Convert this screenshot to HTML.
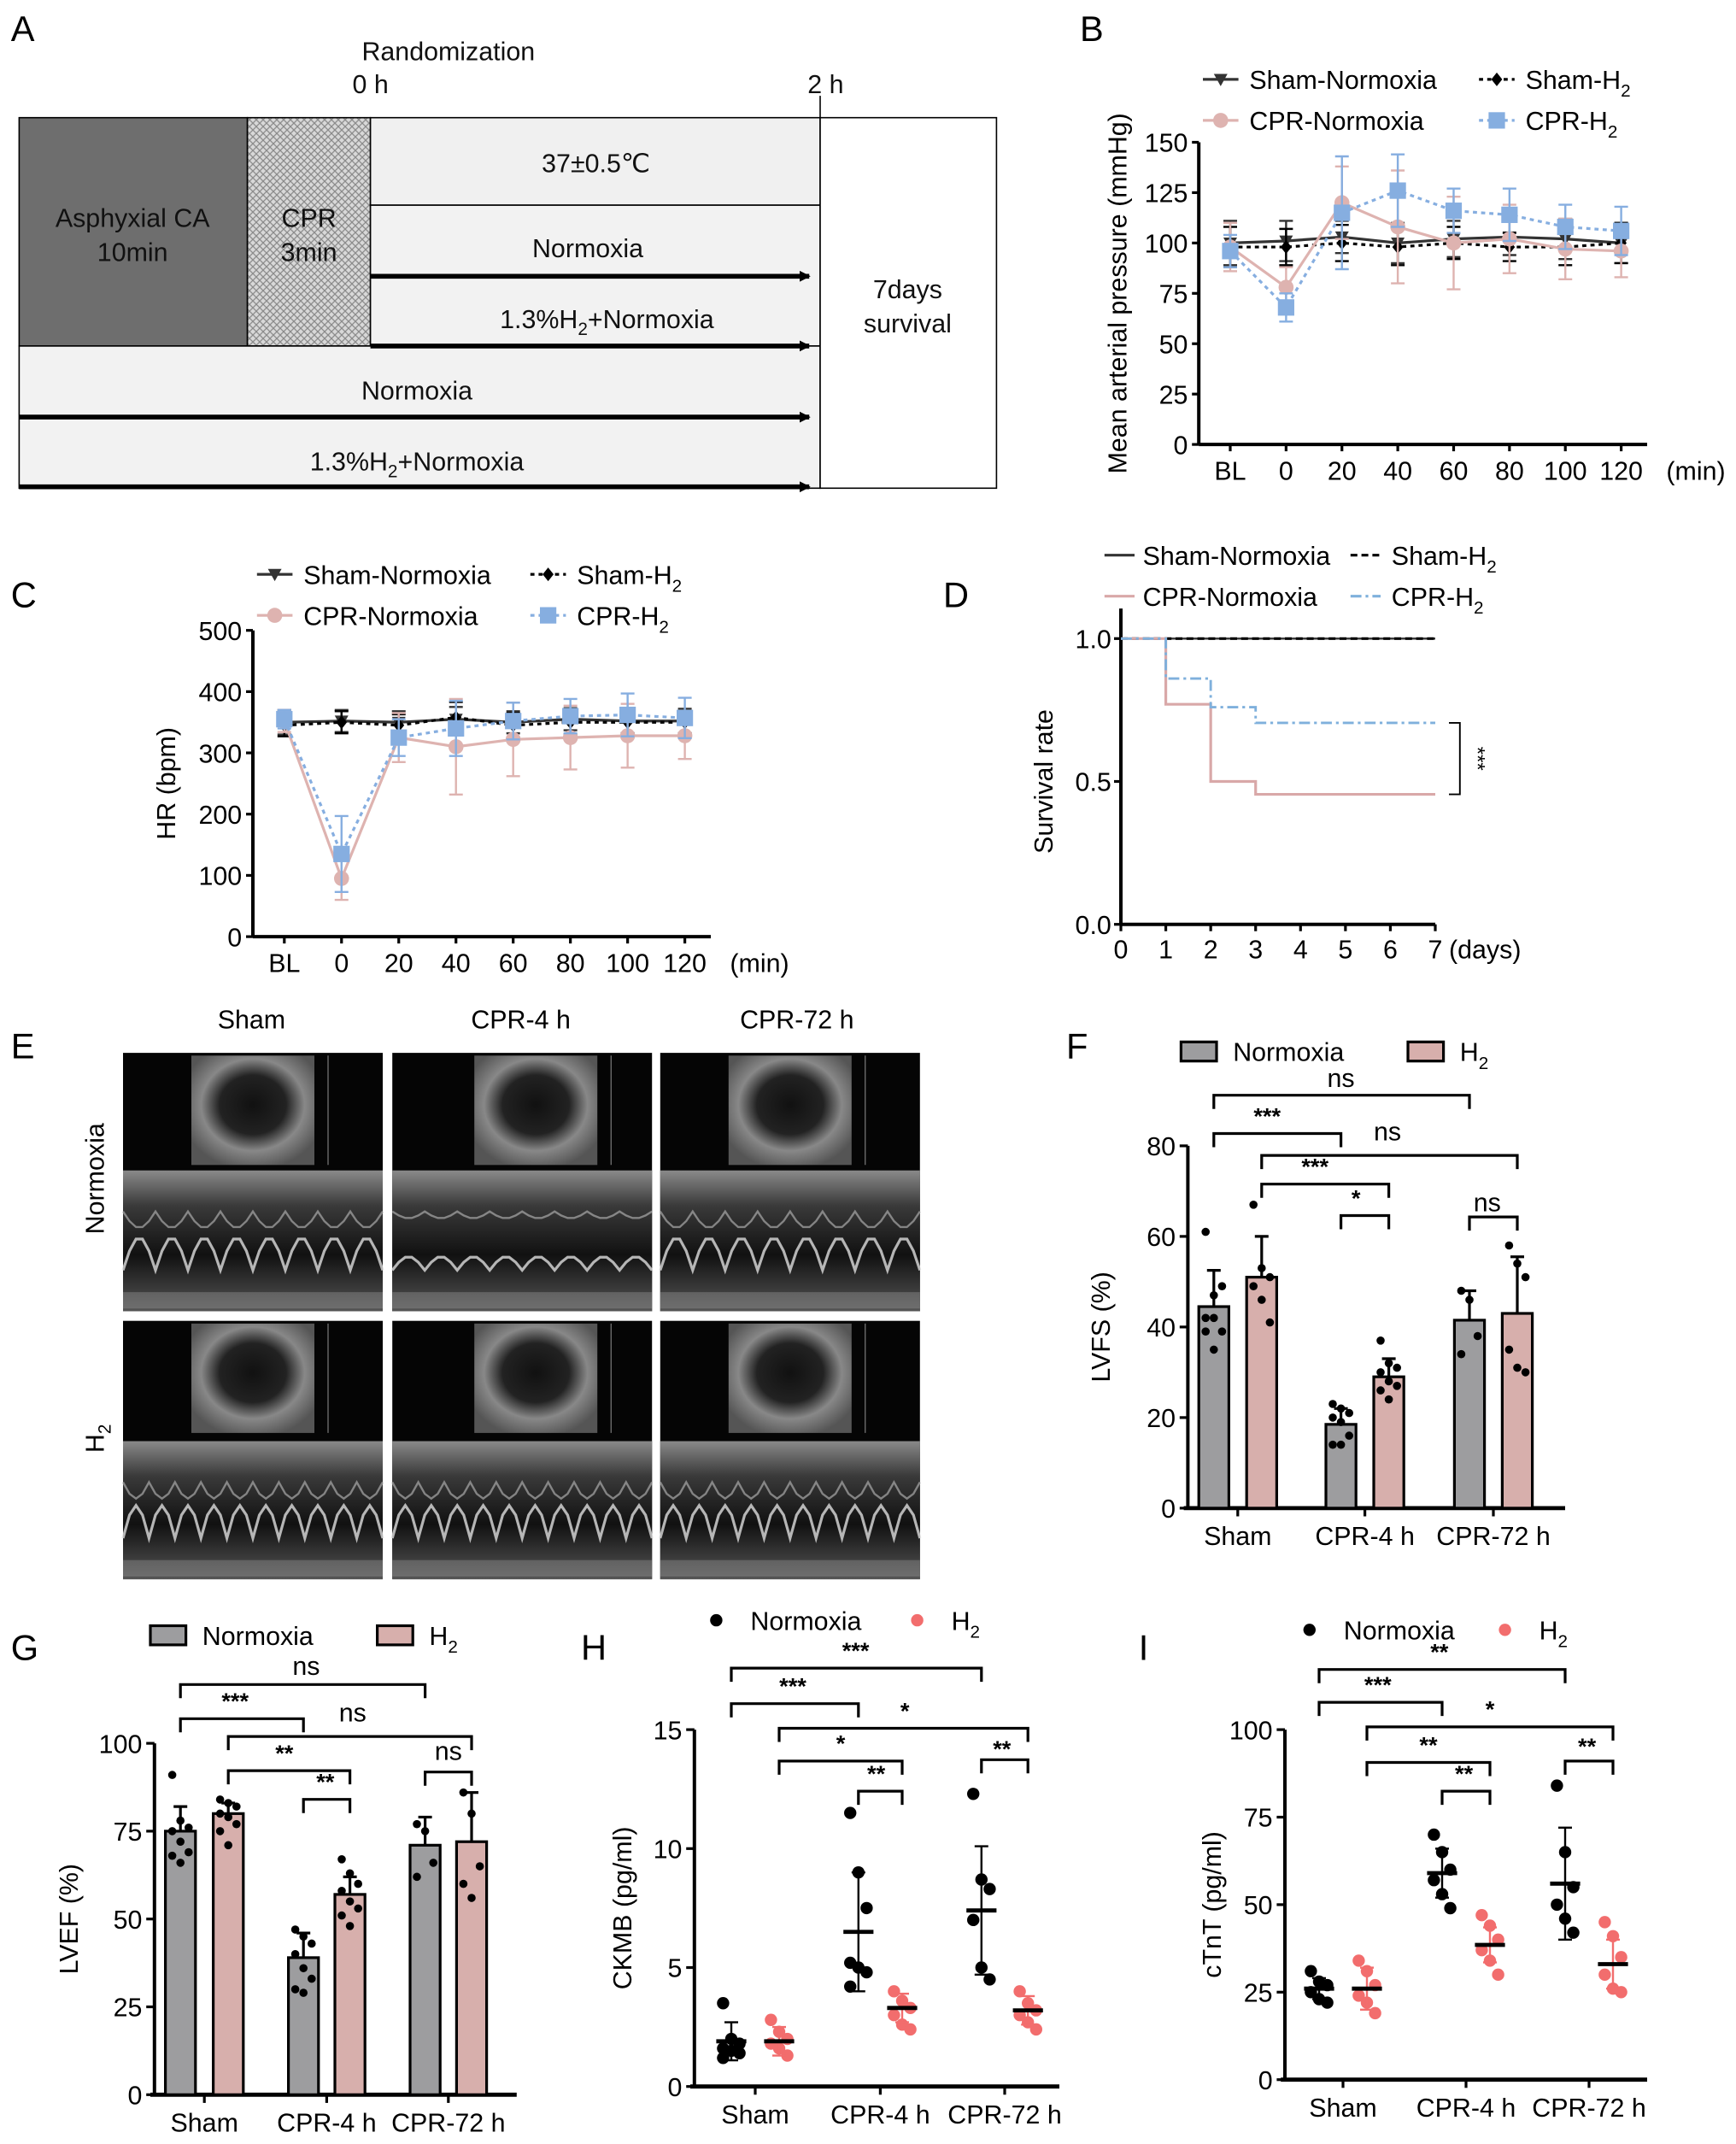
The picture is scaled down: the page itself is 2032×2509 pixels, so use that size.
<!DOCTYPE html>
<html><head><meta charset="utf-8">
<style>
html,body{margin:0;padding:0;background:#fff;}
svg{display:block;font-family:"Liberation Sans","DejaVu Sans",sans-serif;}
</style></head>
<body>
<svg id="fig" xmlns="http://www.w3.org/2000/svg" width="2032" height="2509" viewBox="0 0 1270 1568">
<defs>
<pattern id="hatch" width="5" height="5" patternUnits="userSpaceOnUse">
<rect width="5" height="5" fill="#d8d8d8"/>
<path d="M0,0L5,5M5,0L0,5" stroke="#8a8a8a" stroke-width="0.8"/>
</pattern>
<marker id="arr" markerWidth="8" markerHeight="8" refX="7" refY="4" orient="auto" markerUnits="userSpaceOnUse" viewBox="0 0 8 8">
<path d="M0,0L8,4L0,8z" fill="#000"/>
</marker>
<linearGradient id="mm" x1="0" y1="0" x2="0" y2="1">
<stop offset="0" stop-color="#8a8a8a"/><stop offset="0.25" stop-color="#3a3a3a"/><stop offset="0.6" stop-color="#111"/><stop offset="1" stop-color="#555"/>
</linearGradient>
<radialGradient id="sec" cx="0.5" cy="0.45" r="0.6">
<stop offset="0" stop-color="#111"/><stop offset="0.45" stop-color="#222"/><stop offset="0.7" stop-color="#888"/><stop offset="1" stop-color="#555"/>
</radialGradient>
</defs>

<!-- Panel letters -->
<g font-size="26">
<text x="8" y="30">A</text>
<text x="790" y="30">B</text>
<text x="8" y="444">C</text>
<text x="690" y="444">D</text>
<text x="8" y="774">E</text>
<text x="780" y="774">F</text>
<text x="8" y="1214">G</text>
<text x="425" y="1214">H</text>
<text x="833" y="1214">I</text>
</g>

<!-- Panel A -->
<g id="panelA" font-size="19" fill="#111">
<rect x="14" y="86" width="167" height="167" fill="#6e6e6e" stroke="#000"/>
<rect x="181" y="86" width="90" height="167" fill="url(#hatch)" stroke="#000"/>
<rect x="271" y="86" width="329" height="64" fill="#f0f0f0" stroke="#000"/>
<rect x="271" y="150" width="329" height="103" fill="#f2f2f2" stroke="#000"/>
<rect x="14" y="253" width="586" height="104" fill="#f2f2f2" stroke="#000"/>
<rect x="600" y="86" width="129" height="271" fill="#fff" stroke="#000"/>
<line x1="600" y1="70" x2="600" y2="86" stroke="#000"/>
<text x="97" y="166" text-anchor="middle">Asphyxial CA</text>
<text x="97" y="191" text-anchor="middle">10min</text>
<text x="226" y="166" text-anchor="middle">CPR</text>
<text x="226" y="191" text-anchor="middle">3min</text>
<text x="436" y="126" text-anchor="middle">37±0.5℃</text>
<text x="430" y="188" text-anchor="middle">Normoxia</text>
<line x1="271" y1="202" x2="592" y2="202" stroke="#000" stroke-width="3.5" marker-end="url(#arr)"/>
<text x="444" y="240" text-anchor="middle">1.3%H<tspan font-size="13" dy="5">2</tspan><tspan dy="-5">+Normoxia</tspan></text>
<line x1="271" y1="253" x2="592" y2="253" stroke="#000" stroke-width="3.5" marker-end="url(#arr)"/>
<text x="305" y="292" text-anchor="middle">Normoxia</text>
<line x1="14" y1="305" x2="592" y2="305" stroke="#000" stroke-width="3.5" marker-end="url(#arr)"/>
<text x="305" y="344" text-anchor="middle">1.3%H<tspan font-size="13" dy="5">2</tspan><tspan dy="-5">+Normoxia</tspan></text>
<line x1="14" y1="356" x2="592" y2="356" stroke="#000" stroke-width="3.5" marker-end="url(#arr)"/>
<text x="664" y="218" text-anchor="middle">7days</text>
<text x="664" y="243" text-anchor="middle">survival</text>
<text x="328" y="44" text-anchor="middle">Randomization</text>
<text x="271" y="68" text-anchor="middle">0 h</text>
<text x="604" y="68" text-anchor="middle">2 h</text>
</g>

<!-- Panel E -->
<g id="panelE" font-size="19">
<text x="184" y="752" text-anchor="middle">Sham</text>
<text x="381" y="752" text-anchor="middle">CPR-4 h</text>
<text x="583" y="752" text-anchor="middle">CPR-72 h</text>
<text transform="translate(76,862) rotate(-90)" text-anchor="middle">Normoxia</text>
<text transform="translate(76,1052) rotate(-90)" text-anchor="middle">H<tspan font-size="13" dy="5">2</tspan></text>
</g>

<g id="chartB"></g>
<g id="chartC"></g>
<g id="chartD"></g>
<g id="chartF"></g>
<g id="chartG"></g>
<g id="chartH"></g>
<g id="chartI"></g>
</svg>

<script>
// ---------- data: panel B (MAP) ----------
const timeLabels = ['BL','0','20','40','60','80','100','120'];
const mapTicks = [0,25,50,75,100,125,150];
const mapShamN = [100,101,103,100,102,103,102,100];
const mapShamH2 = [98,98,100,98,100,98,98,100];
const mapCprN = [98,78,120,108,100,102,97,96];
const mapCprH2 = [96,68,115,126,116,114,108,106];
const mapErrShamN = [11,10,8,10,9,9,10,10];
const mapErrShamH2 = [10,9,9,9,8,7,9,10];
const mapErrCprN = [12,10,18,28,23,17,15,13];
const mapErrCprH2 = [8,7,28,18,11,13,11,12];
// ---------- data: panel C (HR) ----------
const hrTicks = [0,100,200,300,400,500];
const hrShamN = [350,352,350,355,350,355,352,352];
const hrShamH2 = [345,350,345,358,345,350,350,350];
const hrCprN = [352,95,325,310,322,325,328,328];
const hrCprH2 = [355,135,325,340,352,360,362,357];
const hrErrShamN = [20,18,18,20,18,18,20,20];
const hrErrShamH2 = [18,18,18,25,20,20,18,18];
const hrErrCprN = [18,35,40,78,60,52,52,38];
const hrErrCprH2 = [15,62,30,45,30,28,35,33];
// ---------- data: panel D (survival) ----------
const dayTicks = [0,1,2,3,4,5,6,7];
const survTicks = [0.0,0.5,1.0];
const survDaysN = [0,1,2,3,7];
const survCprN = [1.0,0.77,0.5,0.455,0.455];
const survDaysH2 = [0,1,2,3,7];
const survCprH2 = [1.0,0.86,0.76,0.705,0.705];
// ---------- data: bar/scatter panels ----------
const groupLabels = ['Sham','CPR-4 h','CPR-72 h'];
const lvfsTicks = [0,20,40,60,80];
const lvfsMeans = [44.5,51,18.5,29,41.5,43];
const lvfsErr = [8,9,3.5,4,6.5,12.5];
const lvfsDots = [[61,47,49,42,42,39,39,35],[67,53,51,49,46,41],[23,22,21,20,19,16,14,14],[37,32,31,30,28,27,26,24],[48,46,38,34],[58,54,51,35,31,30]];
const lvefTicks = [0,25,50,75,100];
const lvefMeans = [75,80,39,57,71,72];
const lvefErr = [7,3,7,5,8,14];
const lvefDots = [[91,78,76,75,72,69,68,66],[84,83,82,80,79,77,75,71],[47,45,43,40,36,33,30,29],[67,63,60,58,55,53,51,48],[77,75,66,62],[86,80,65,60,56]];
const ckmbTicks = [0,5,10,15];
const ckmbMeans = [1.9,1.9,6.5,3.3,7.4,3.2];
const ckmbErr = [0.8,0.6,2.5,0.6,2.7,0.6];
const ckmbDots = [[3.5,2.0,1.8,1.6,1.5,1.4,1.2],[2.8,2.3,2.0,1.8,1.6,1.3],[11.5,9.0,7.5,5.2,5.0,4.8,4.2],[4.0,3.6,3.3,3.0,2.6,2.4],[12.3,8.7,8.3,7.0,5.0,4.5],[4.0,3.5,3.2,3.0,2.7,2.4]];
const ctntTicks = [0,25,50,75,100];
const ctntMeans = [26,26,59,38.5,56,33];
const ctntErr = [3,6,7,5,16,7];
const ctntDots = [[31,28,27,25,23,22],[34,31,27,24,22,19],[70,65,60,57,53,49],[47,44,40,37,34,30],[84,65,55,50,46,42],[45,41,35,30,26,25]];

const NS='http://www.w3.org/2000/svg';
function mk(parent, tag, attrs, name){
  const el=document.createElementNS(NS,tag);
  for(const k in attrs) el.setAttribute(k,attrs[k]);
  
  
  parent.appendChild(el); return el;
}
function txt(parent,x,y,s,name,extra){
  const a=Object.assign({x:x,y:y},extra||{});
  const t=mk(parent,'text',a,name); t.textContent=s; return t;
}
function h2text(parent,x,y,prefix,name,fs){
  const t=mk(parent,'text',{x:x,y:y,'font-size':fs},name);
  t.appendChild(document.createTextNode(prefix+'H'));
  const sub=document.createElementNS(NS,'tspan');
  sub.setAttribute('font-size',fs*0.68); sub.setAttribute('dy',fs*0.3); sub.textContent='2';
  t.appendChild(sub); return t;
}
function marker(g,type,x,y,color,name){
  if(type==='tri') mk(g,'path',{d:`M${x-5},${y-4}L${x+5},${y-4}L${x},${y+5}z`,fill:color},name);
  else if(type==='dia') mk(g,'path',{d:`M${x},${y-5}L${x+4},${y}L${x},${y+5}L${x-4},${y}z`,fill:color},name);
  else if(type==='circ') mk(g,'circle',{cx:x,cy:y,r:5.5,fill:color},name);
  else mk(g,'rect',{x:x-6,y:y-6,width:12,height:12,fill:color},name);
}

// ---------- line charts B & C ----------
function lineChart(gid, o){
  const g=document.getElementById(gid);
  const ys=v=>o.y0-(v-o.vmin)/(o.vmax-o.vmin)*(o.y0-o.y1);
  const xs=i=>o.xFirst+i*(o.xLast-o.xFirst)/(timeLabels.length-1);
  mk(g,'line',{x1:o.ax,y1:o.y1,x2:o.ax,y2:o.y0,stroke:'#000','stroke-width':2.5},'y-axis');
  mk(g,'line',{x1:o.ax,y1:o.y0,x2:o.xEnd,y2:o.y0,stroke:'#000','stroke-width':2.5},'x-axis');
  o.ticks.forEach(t=>{
    mk(g,'line',{x1:o.ax-5,y1:ys(t),x2:o.ax,y2:ys(t),stroke:'#000','stroke-width':2},'y-tick');
    txt(g,o.ax-8,ys(t)+7,String(t),'y-tick-label',{'text-anchor':'end','font-size':19});
  });
  timeLabels.forEach((l,i)=>{
    mk(g,'line',{x1:xs(i),y1:o.y0,x2:xs(i),y2:o.y0+5,stroke:'#000','stroke-width':2},'x-tick');
    txt(g,xs(i),o.y0+26,l,'x-tick-label',{'text-anchor':'middle','font-size':19});
  });
  txt(g,o.xEnd+14,o.y0+26,'(min)','x-unit-label',{'font-size':19});
  txt(g,0,0,o.ylabel,'y-axis-title',{'text-anchor':'middle','font-size':19,transform:`translate(${o.ylx},${(o.y0+o.y1)/2}) rotate(-90)`});
  o.series.forEach(s=>{
    const sg=mk(g,'g',{},'series-'+s.key);
    s.vals.forEach((v,i)=>{
      const x=xs(i);
      mk(sg,'line',{x1:x,y1:ys(v-s.err[i]),x2:x,y2:ys(v+s.err[i]),stroke:s.color,'stroke-width':1.5},'error-bar');
      mk(sg,'line',{x1:x-5,y1:ys(v+s.err[i]),x2:x+5,y2:ys(v+s.err[i]),stroke:s.color,'stroke-width':1.5},'error-cap');
      mk(sg,'line',{x1:x-5,y1:ys(v-s.err[i]),x2:x+5,y2:ys(v-s.err[i]),stroke:s.color,'stroke-width':1.5},'error-cap');
    });
    const d=s.vals.map((v,i)=>(i?'L':'M')+xs(i)+','+ys(v)).join('');
    mk(sg,'path',{d:d,fill:'none',stroke:s.color,'stroke-width':s.w,'stroke-dasharray':s.dash},'series-line');
    s.vals.forEach((v,i)=>marker(sg,s.m,xs(i),ys(v),s.color,'point'));
  });
  // legend
  o.series.forEach((s,k)=>{
    const lx=o.legX[k%2], ly=o.legY[Math.floor(k/2)];
    mk(g,'line',{x1:lx,y1:ly,x2:lx+26,y2:ly,stroke:s.color,'stroke-width':s.w,'stroke-dasharray':s.dash},'legend-line');
    marker(g,s.m,lx+13,ly,s.color,'legend-marker');
    if(s.h2) h2text(g,lx+34,ly+7,s.label,'legend-label',19);
    else txt(g,lx+34,ly+7,s.label,'legend-label',{'font-size':19});
  });
}
const colShamN='#333', colShamH2='#000', colCprN='#deb3b0', colCprH2='#86aee0';
lineChart('chartB',{ax:877,y0:325,y1:104,vmin:0,vmax:150,xFirst:900,xLast:1186,xEnd:1205,ticks:mapTicks,ylabel:'Mean arterial pressure (mmHg)',ylx:824,
  legX:[880,1082],legY:[58,88],
  series:[
   {key:'sham-normoxia',label:'Sham-Normoxia',vals:mapShamN,err:mapErrShamN,color:colShamN,m:'tri',w:2,dash:'none'},
   {key:'sham-h2',label:'Sham-',h2:1,vals:mapShamH2,err:mapErrShamH2,color:colShamH2,m:'dia',w:2,dash:'3,3'},
   {key:'cpr-normoxia',label:'CPR-Normoxia',vals:mapCprN,err:mapErrCprN,color:colCprN,m:'circ',w:2,dash:'none'},
   {key:'cpr-h2',label:'CPR-',h2:1,vals:mapCprH2,err:mapErrCprH2,color:colCprH2,m:'sq',w:2,dash:'3,3'}]});
lineChart('chartC',{ax:185,y0:685,y1:461,vmin:0,vmax:500,xFirst:208,xLast:501,xEnd:520,ticks:hrTicks,ylabel:'HR (bpm)',ylx:128,
  legX:[188,388],legY:[420,450],
  series:[
   {key:'sham-normoxia',label:'Sham-Normoxia',vals:hrShamN,err:hrErrShamN,color:colShamN,m:'tri',w:2,dash:'none'},
   {key:'sham-h2',label:'Sham-',h2:1,vals:hrShamH2,err:hrErrShamH2,color:colShamH2,m:'dia',w:2,dash:'3,3'},
   {key:'cpr-normoxia',label:'CPR-Normoxia',vals:hrCprN,err:hrErrCprN,color:colCprN,m:'circ',w:2,dash:'none'},
   {key:'cpr-h2',label:'CPR-',h2:1,vals:hrCprH2,err:hrErrCprH2,color:colCprH2,m:'sq',w:2,dash:'3,3'}]});

// ---------- survival D ----------
(function(){
  const g=document.getElementById('chartD');
  const ax=820,y0=676,y1=467,xe=1050;
  const xs=d=>ax+d*(xe-ax)/7, ys=v=>y0-v*(y0-y1);
  mk(g,'line',{x1:ax,y1:445,x2:ax,y2:y0,stroke:'#000','stroke-width':2.5},'y-axis');
  mk(g,'line',{x1:ax,y1:y0,x2:xe,y2:y0,stroke:'#000','stroke-width':2.5},'x-axis');
  survTicks.forEach(t=>{
    mk(g,'line',{x1:ax-5,y1:ys(t),x2:ax,y2:ys(t),stroke:'#000','stroke-width':2},'y-tick');
    txt(g,ax-7,ys(t)+7,t.toFixed(1),'y-tick-label',{'text-anchor':'end','font-size':19});
  });
  dayTicks.forEach(d=>{
    mk(g,'line',{x1:xs(d),y1:y0,x2:xs(d),y2:y0+5,stroke:'#000','stroke-width':2},'x-tick');
    txt(g,xs(d),y0+25,String(d),'x-tick-label',{'text-anchor':'middle','font-size':19});
  });
  txt(g,xe+10,y0+25,'(days)','x-unit-label',{'font-size':19});
  txt(g,0,0,'Survival rate','y-axis-title',{'text-anchor':'middle','font-size':19,transform:`translate(770,${(y0+y1)/2}) rotate(-90)`});
  function step(days,vals){let d='M'+xs(days[0])+','+ys(vals[0]);for(let i=1;i<days.length;i++){d+='L'+xs(days[i])+','+ys(vals[i-1])+'L'+xs(days[i])+','+ys(vals[i]);}return d;}
  mk(g,'line',{x1:ax,y1:ys(1),x2:xe,y2:ys(1),stroke:'#333','stroke-width':1.5},'line-sham-normoxia');
  mk(g,'line',{x1:ax,y1:ys(1),x2:xe,y2:ys(1),stroke:'#000','stroke-width':2,'stroke-dasharray':'5,3'},'line-sham-h2');
  mk(g,'path',{d:step(survDaysN,survCprN),fill:'none',stroke:'#d9a8a8','stroke-width':2},'line-cpr-normoxia');
  mk(g,'path',{d:step(survDaysH2,survCprH2),fill:'none',stroke:'#7fb0dc','stroke-width':1.8,'stroke-dasharray':'8,3,2,3'},'line-cpr-h2');
  const by1=ys(survCprH2[survCprH2.length-1]), by2=ys(survCprN[survCprN.length-1]);
  mk(g,'path',{d:`M1060,${by1}L1068,${by1}L1068,${by2}L1060,${by2}`,fill:'none',stroke:'#000','stroke-width':1.2},'significance-bracket');
  txt(g,0,0,'***','significance-label',{'font-size':15,'text-anchor':'middle',transform:`translate(1076,${(by1+by2)/2}) rotate(90)`});
  const L=[['Sham-Normoxia','#333','none',808,406],['Sham-','#000','5,3',988,406],['CPR-Normoxia','#d9a8a8','none',808,436],['CPR-','#7fb0dc','8,3,2,3',988,436]];
  L.forEach((l,k)=>{
    mk(g,'line',{x1:l[3],y1:l[4],x2:l[3]+22,y2:l[4],stroke:l[1],'stroke-width':2,'stroke-dasharray':l[2]},'legend-line');
    if(k%2) h2text(g,l[3]+30,l[4]+7,l[0],'legend-label',19); else txt(g,l[3]+28,l[4]+7,l[0],'legend-label',{'font-size':19});
  });
})();

// ---------- bar / scatter charts ----------
function groupChart(gid,o){
  const g=document.getElementById(gid);
  const ys=v=>o.y0-v/o.vmax*(o.y0-o.y1);
  mk(g,'line',{x1:o.ax,y1:o.y1,x2:o.ax,y2:o.y0,stroke:'#000','stroke-width':2.5},'y-axis');
  mk(g,'line',{x1:o.ax-3,y1:o.y0,x2:o.xEnd,y2:o.y0,stroke:'#000','stroke-width':3},'x-axis');
  o.ticks.forEach(t=>{
    mk(g,'line',{x1:o.ax-6,y1:ys(t),x2:o.ax,y2:ys(t),stroke:'#000','stroke-width':2},'y-tick');
    txt(g,o.ax-9,ys(t)+7,String(t),'y-tick-label',{'text-anchor':'end','font-size':19});
  });
  groupLabels.forEach((l,k)=>{
    const cx=(o.xs[2*k]+o.xs[2*k+1])/2;
    mk(g,'line',{x1:cx,y1:o.y0,x2:cx,y2:o.y0+6,stroke:'#000','stroke-width':2},'x-tick');
    txt(g,cx,o.y0+27,l,'x-tick-label',{'text-anchor':'middle','font-size':19});
  });
  txt(g,0,0,o.ylabel,'y-axis-title',{'text-anchor':'middle','font-size':19,transform:`translate(${o.ylx},${(o.y0+o.y1)/2}) rotate(-90)`});
  o.means.forEach((m,i)=>{
    const x=o.xs[i], col=i%2?o.c2:o.c1;
    if(o.bars){
      mk(g,'rect',{x:x-11,y:ys(m),width:22,height:o.y0-ys(m),fill:col,stroke:'#000','stroke-width':2},'bar-'+i);
      mk(g,'line',{x1:x,y1:ys(m),x2:x,y2:ys(m+o.err[i]),stroke:'#000','stroke-width':2},'error-bar');
      mk(g,'line',{x1:x-5,y1:ys(m+o.err[i]),x2:x+5,y2:ys(m+o.err[i]),stroke:'#000','stroke-width':2},'error-cap');
    }
    o.dots[i].forEach((v,j)=>{
      const dx=((j%3)-1)*6;
      mk(g,'circle',{cx:x+dx,cy:ys(v),r:o.bars?3:4.5,fill:o.bars?'#000':col},'dot');
    });
    if(!o.bars){
      const ec=i%2?o.c2:'#000';
      mk(g,'line',{x1:x,y1:ys(m-o.err[i]),x2:x,y2:ys(m+o.err[i]),stroke:ec,'stroke-width':1.5},'error-bar');
      mk(g,'line',{x1:x-5,y1:ys(m+o.err[i]),x2:x+5,y2:ys(m+o.err[i]),stroke:ec,'stroke-width':1.5},'error-cap');
      mk(g,'line',{x1:x-5,y1:ys(m-o.err[i]),x2:x+5,y2:ys(m-o.err[i]),stroke:ec,'stroke-width':1.5},'error-cap');
      mk(g,'line',{x1:x-11,y1:ys(m),x2:x+11,y2:ys(m),stroke:'#000','stroke-width':3},'mean-line');
    }
  });
  o.brackets.forEach(b=>{
    const x1=o.xs[b[0]],x2=o.xs[b[1]],y=b[2];
    mk(g,'path',{d:`M${x1},${y+10}L${x1},${y}L${x2},${y}L${x2},${y+10}`,fill:'none',stroke:'#000','stroke-width':2},'significance-bracket');
    txt(g,b[4]!==undefined?b[4]:(x1+x2)/2,b[5]!==undefined?b[5]:y-6,b[3],'significance-label',{'text-anchor':'middle','font-size':b[3]==='ns'?19:17,'font-weight':b[3]==='ns'?'normal':'bold'});
  });
  // legend
  if(o.bars){
    mk(g,'rect',{x:o.legX[0],y:o.legY-7,width:26,height:14,fill:o.c1,stroke:'#000','stroke-width':2},'legend-swatch-normoxia');
    mk(g,'rect',{x:o.legX[1],y:o.legY-7,width:26,height:14,fill:o.c2,stroke:'#000','stroke-width':2},'legend-swatch-h2');
  } else {
    mk(g,'circle',{cx:o.legX[0]+13,cy:o.legY,r:4.5,fill:o.c1},'legend-dot-normoxia');
    mk(g,'circle',{cx:o.legX[1]+13,cy:o.legY,r:4.5,fill:o.c2},'legend-dot-h2');
  }
  txt(g,o.legX[0]+38,o.legY+7,'Normoxia','legend-label',{'font-size':19});
  h2text(g,o.legX[1]+38,o.legY+7,'','legend-label',19);
}
groupChart('chartF',{ax:869,y0:1103,y1:838,vmax:80,xEnd:1145,xs:[888,923,981,1016,1075,1110],ticks:lvfsTicks,
  means:lvfsMeans,err:lvfsErr,dots:lvfsDots,bars:true,c1:'#9d9d9f',c2:'#d7afac',ylabel:'LVFS (%)',ylx:812,legX:[864,1030],legY:769,
  brackets:[[0,4,801,'ns',981,795],[0,2,829,'***',927,822],[1,5,845,'ns',1015,834],[1,3,866,'***',962,859],[2,3,889,'*',992,882],[4,5,890,'ns',1088,886]]});
groupChart('chartG',{ax:113,y0:1532,y1:1275,vmax:100,xEnd:378,xs:[132,167,222,256,311,345],ticks:lvefTicks,
  means:lvefMeans,err:lvefErr,dots:lvefDots,bars:true,c1:'#9d9d9f',c2:'#d7afac',ylabel:'LVEF (%)',ylx:57,legX:[110,276],legY:1196,
  brackets:[[0,4,1232,'ns',224,1225],[0,2,1257,'***',172,1250],[1,5,1270,'ns',258,1259],[1,3,1295,'**',208,1288],[2,3,1316,'**',238,1309],[4,5,1296,'ns',328,1287]]});
groupChart('chartH',{ax:508,y0:1526,y1:1265,vmax:15,xEnd:775,xs:[535,570,628,660,718,752],ticks:ckmbTicks,
  means:ckmbMeans,err:ckmbErr,dots:ckmbDots,bars:false,c1:'#000',c2:'#f26d6d',ylabel:'CKMB (pg/ml)',ylx:462,legX:[511,658],legY:1185,
  brackets:[[0,4,1220,'***',626,1213],[0,2,1246,'***',580,1239],[1,5,1264,'*',662,1257],[1,3,1288,'*',615,1281],[2,3,1310,'**',641,1303],[4,5,1287,'**',733,1285]]});
groupChart('chartI',{ax:940,y0:1521,y1:1265,vmax:100,xEnd:1205,xs:[965,1000,1055,1090,1145,1180],ticks:ctntTicks,
  means:ctntMeans,err:ctntErr,dots:ctntDots,bars:false,c1:'#000',c2:'#f26d6d',ylabel:'cTnT (pg/ml)',ylx:893,legX:[945,1088],legY:1192,
  brackets:[[0,4,1221,'**',1053,1214],[0,2,1245,'***',1008,1238],[1,5,1263,'*',1090,1256],[1,3,1289,'**',1045,1282],[2,3,1310,'**',1071,1303],[4,5,1288,'**',1161,1283]]});

// ---------- echo images (decorative) ----------
(function(){
  const g=document.getElementById('panelE');
  const cols=[90,287,483], rows=[770,966], w=190, h=189;
  rows.forEach((ry,r)=>cols.forEach((cx,c)=>{
    const ig=mk(g,'g',{},'echo-image-r'+r+'-c'+c);
    mk(ig,'rect',{x:cx,y:ry,width:w,height:h,fill:'#050505'},'echo-background');
    const sx=cx+50+(c===1?10:0), sy=ry+2;
    mk(ig,'rect',{x:sx,y:sy,width:90,height:80,fill:'url(#sec)'},'echo-2d-view');
    mk(ig,'line',{x1:sx+100,y1:sy,x2:sx+100,y2:sy+80,stroke:'#999','stroke-width':0.6},'echo-scale');
    const my=ry+(r?88:86);
    mk(ig,'rect',{x:cx,y:my,width:w,height:ry+h-my,fill:'url(#mm)'},'echo-mmode');
    const amp=(c===1&&r===0)?5:12, n=r?5:4, base=ry+h-30, top=my+30;
    let d1='',d2='';
    for(let k=0;k<=40;k++){const x=cx+k*w/40, ph=Math.sin(k/40*n*2*Math.PI);
      d1+=(k?'L':'M')+x+','+(base-amp*Math.abs(ph)*2);
      d2+=(k?'L':'M')+x+','+(top+amp*Math.abs(ph));}
    mk(ig,'path',{d:d1,fill:'none',stroke:'#ddd','stroke-width':2,opacity:0.8},'echo-wall-posterior');
    mk(ig,'path',{d:d2,fill:'none',stroke:'#aaa','stroke-width':1.5,opacity:0.7},'echo-wall-anterior');
    mk(ig,'rect',{x:cx,y:ry+h-14,width:w,height:12,fill:'#999',opacity:0.4},'echo-bottom-band');
  }));
})();
</script>
</body></html>
